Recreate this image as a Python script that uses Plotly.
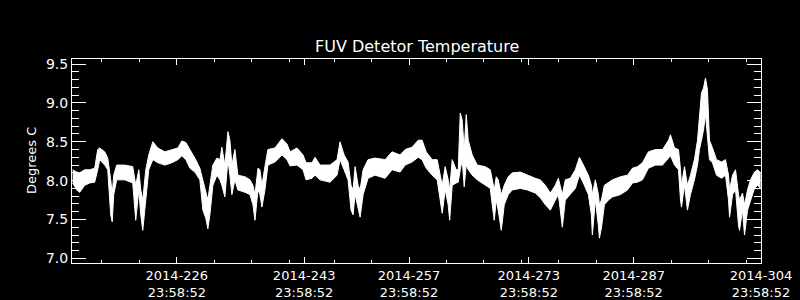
import plotly.graph_objects as go

# Day-of-year (fractional) sample positions
day = [213.09, 213.62, 214.03, 214.70, 215.37, 216.03, 216.43, 216.70, 217.37, 217.77,
       218.17, 218.37, 218.57, 218.97, 220.05, 221.11, 221.51, 221.92, 222.18, 222.45,
       222.85, 223.25, 223.79, 224.46, 225.40, 226.33, 227.13, 227.67, 228.21, 228.74,
       229.41, 230.07, 230.48, 230.88, 231.14, 231.41, 231.81, 232.35, 232.75, 233.01,
       233.41, 233.82, 234.08, 234.35, 234.75, 235.15, 236.09, 236.76, 237.16, 237.43,
       237.83, 238.09, 238.36, 238.76, 239.16, 240.10, 241.04, 241.71, 242.11, 243.04,
       243.85, 244.25, 245.05, 245.45, 246.12, 247.45, 248.39, 248.79, 249.33, 249.86,
       250.26, 250.53, 250.80, 251.20, 251.47, 251.87, 252.53, 253.47, 254.81, 255.74,
       256.81, 257.48, 258.41, 259.22, 259.75, 260.29, 261.09, 261.76, 262.16, 262.43,
       262.83, 263.23, 263.43, 263.77, 264.30, 264.57, 264.84, 265.10, 265.37, 265.64,
       265.91, 266.44, 267.11, 268.18, 268.85, 269.11, 269.38, 269.65, 269.91, 270.32,
       270.72, 271.25, 271.79, 272.86, 273.79, 274.86, 275.53, 276.20, 276.87, 277.54,
       277.94, 278.20, 278.47, 278.87, 279.54, 280.21, 280.75, 281.28, 281.95, 282.35,
       282.48, 282.88, 283.29, 283.42, 283.69, 284.09, 284.62, 285.16, 286.23, 287.17,
       287.84, 288.50, 289.17, 289.97, 290.91, 291.85, 292.65, 292.91, 293.45, 293.98,
       294.25, 294.38, 294.78, 295.18, 295.58, 296.11, 296.52, 296.78, 297.05, 297.32,
       297.59, 297.85, 298.12, 298.52, 299.06, 299.73, 300.26, 300.66, 300.80, 301.20,
       301.60, 302.00, 302.13, 302.53, 302.80, 303.20, 303.60, 304.13, 304.54, 304.95]

# Upper envelope of the noisy temperature band (deg C)
temp_hi = [8.14, 8.11, 8.10, 8.14, 8.14, 8.16, 8.40, 8.42, 8.37, 8.29,
           8.01, 7.82, 8.07, 8.20, 8.20, 8.18, 7.94, 8.14, 7.88, 7.75,
           8.14, 8.33, 8.50, 8.42, 8.37, 8.40, 8.42, 8.51, 8.49, 8.40,
           8.29, 8.16, 8.01, 7.88, 7.75, 7.94, 8.20, 8.29, 8.27, 8.43,
           8.20, 8.63, 8.52, 8.20, 8.40, 8.07, 8.05, 8.01, 7.94, 7.82,
           8.16, 8.14, 7.94, 8.18, 8.40, 8.42, 8.54, 8.47, 8.37, 8.42,
           8.33, 8.23, 8.23, 8.30, 8.20, 8.20, 8.27, 8.50, 8.33, 8.24,
           7.94, 7.88, 8.18, 7.94, 7.88, 8.14, 8.27, 8.29, 8.27, 8.37,
           8.33, 8.40, 8.43, 8.52, 8.52, 8.37, 8.27, 8.27, 8.07, 7.94,
           8.18, 8.01, 7.88, 8.27, 8.14, 8.14, 8.87, 8.78, 8.40, 8.85,
           8.52, 8.33, 8.20, 8.18, 8.14, 8.01, 7.88, 8.05, 8.01, 7.82,
           7.94, 8.05, 8.10, 8.11, 8.07, 8.03, 8.01, 7.94, 7.84, 7.94,
           8.03, 7.94, 7.82, 8.01, 8.03, 8.14, 8.30, 8.20, 8.07, 7.94,
           7.82, 8.01, 7.82, 7.69, 7.75, 7.94, 7.98, 8.01, 8.05, 8.07,
           8.16, 8.18, 8.23, 8.37, 8.40, 8.40, 8.52, 8.59, 8.42, 8.40,
           8.14, 7.94, 8.18, 7.94, 8.07, 8.27, 8.52, 8.85, 9.13, 9.19,
           9.32, 9.17, 8.52, 8.42, 8.27, 8.24, 8.27, 8.07, 7.88, 8.07,
           8.14, 7.82, 7.75, 7.84, 7.69, 7.88, 8.01, 8.11, 8.14, 8.10]

# Lower envelope of the noisy temperature band (deg C)
temp_lo = [7.97, 7.88, 7.85, 7.94, 7.97, 7.98, 8.14, 8.27, 8.20, 8.14,
           7.56, 7.47, 7.82, 8.01, 8.01, 7.97, 7.49, 7.88, 7.56, 7.36,
           7.75, 8.14, 8.27, 8.23, 8.20, 8.23, 8.27, 8.32, 8.27, 8.16,
           8.11, 8.01, 7.62, 7.51, 7.38, 7.56, 7.94, 8.07, 8.01, 7.94,
           7.79, 8.27, 8.07, 7.82, 8.01, 7.88, 7.85, 7.82, 7.69, 7.49,
           7.88, 7.82, 7.66, 7.88, 8.20, 8.24, 8.33, 8.27, 8.19, 8.20,
           8.14, 8.01, 8.03, 8.07, 8.01, 7.98, 8.07, 8.27, 8.14, 8.01,
           7.62, 7.56, 7.82, 7.62, 7.53, 7.82, 8.03, 8.07, 8.03, 8.14,
           8.11, 8.20, 8.24, 8.30, 8.27, 8.16, 8.07, 8.01, 7.75, 7.58,
           7.88, 7.69, 7.49, 7.94, 7.97, 7.98, 8.14, 8.27, 7.92, 8.20,
           8.14, 8.07, 8.01, 7.94, 7.90, 7.69, 7.49, 7.75, 7.62, 7.36,
           7.69, 7.82, 7.88, 7.90, 7.88, 7.84, 7.78, 7.69, 7.62, 7.75,
           7.82, 7.62, 7.40, 7.75, 7.82, 7.90, 8.07, 7.97, 7.82, 7.56,
           7.30, 7.75, 7.42, 7.26, 7.39, 7.69, 7.75, 7.79, 7.82, 7.88,
           7.97, 7.98, 8.01, 8.16, 8.20, 8.20, 8.29, 8.32, 8.20, 8.14,
           7.75, 7.66, 7.94, 7.62, 7.82, 8.01, 8.20, 8.40, 8.52, 8.65,
           8.85, 8.52, 8.27, 8.23, 8.07, 8.03, 8.07, 7.75, 7.53, 7.82,
           7.88, 7.42, 7.36, 7.62, 7.30, 7.62, 7.75, 7.90, 7.94, 7.90]

# Axis tick definitions (day-of-year + 23:58:52)
TOD = (23 * 3600 + 58 * 60 + 52) / 86400.0
major_days = [226, 243, 257, 273, 287, 304]
major_labels = ["2014-226<br>23:58:52", "2014-243<br>23:58:52", "2014-257<br>23:58:52",
                "2014-273<br>23:58:52", "2014-287<br>23:58:52", "2014-304<br>23:58:52"]
minor_days = [216, 221, 231, 236, 241, 247, 252, 262, 267, 272, 277, 282, 292, 297, 302]
x_start_day = 212
x_end_day = 304
y_min, y_max = 6.94, 9.565

FONT = "DejaVu Sans"

fig = go.Figure()
fig.add_trace(go.Scatter(x=day, y=temp_lo, mode="lines",
                         line=dict(color="white", width=1), showlegend=False,
                         hoverinfo="skip"))
fig.add_trace(go.Scatter(x=day, y=temp_hi, mode="lines", fill="tonexty",
                         fillcolor="white",
                         line=dict(color="white", width=1), showlegend=False,
                         hoverinfo="skip"))

fig.update_layout(
    width=800, height=300,
    margin=dict(l=72, r=39, t=59, b=37, autoexpand=False),
    paper_bgcolor="black", plot_bgcolor="black",
    font=dict(family=FONT, color="white", size=14),
    xaxis=dict(
        range=[x_start_day + TOD, x_end_day + TOD],
        automargin=False,
        tickmode="array",
        tickvals=[d + TOD for d in major_days],
        ticktext=major_labels,
        ticks="inside", ticklen=6, tickcolor="white", tickwidth=1,
        showline=True, linecolor="white", linewidth=1, mirror="ticks",
        showgrid=False, zeroline=False,
        ticklabelstandoff=0,
        tickfont=dict(family=FONT, size=13, color="white"),
        minor=dict(tickmode="array", tickvals=[d + TOD for d in minor_days],
                   ticks="inside", ticklen=3, tickcolor="white", tickwidth=1,
                   showgrid=False),
    ),
    yaxis=dict(
        range=[y_min, y_max],
        automargin=False,
        tickmode="linear", tick0=7.0, dtick=0.5, tickformat=".1f",
        ticks="inside", ticklen=14, tickcolor="white", tickwidth=1,
        showline=True, linecolor="white", linewidth=1, mirror="ticks",
        showgrid=False, zeroline=False,
        tickfont=dict(family=FONT, size=14, color="white"),
        minor=dict(tickmode="linear", tick0=7.0, dtick=0.1,
                   ticks="inside", ticklen=7, tickcolor="white", tickwidth=1,
                   showgrid=False),
    ),
    annotations=[
        dict(text="FUV Detetor Temperature", xref="paper", yref="paper",
             x=0.5, y=1, xanchor="center", yanchor="bottom", yshift=1,
             showarrow=False, font=dict(family=FONT, size=16, color="white")),
        dict(text="Degrees C", xref="paper", yref="paper", x=0, y=0.5,
             xanchor="center", yanchor="middle", xshift=-41, textangle=-90,
             showarrow=False, font=dict(family=FONT, size=13, color="white")),
    ],
)

fig.write_html("out.html")
